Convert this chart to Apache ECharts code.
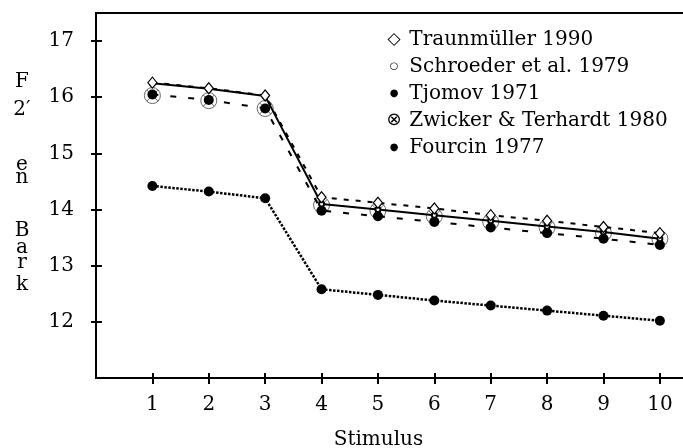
<!DOCTYPE html>
<html>
<head>
<meta charset="utf-8">
<script src="https://cdn.jsdelivr.net/npm/echarts@6/dist/echarts.min.js"></script>
<style>
html,body{margin:0;padding:0;background:#fff;}
#chart{width:683px;height:448px;}
</style>
</head>
<body>
<div id="chart"></div>
<script>
var stimuli = [1, 2, 3, 4, 5, 6, 7, 8, 9, 10];
var xTicks = [1, 2, 3, 4, 5, 6, 7, 8, 9, 10];
var yTicks = [12, 13, 14, 15, 16, 17];
var traunmuller = [16.26, 16.16, 16.03, 14.22, 14.12, 14.02, 13.90, 13.80, 13.69, 13.58];
var schroeder   = [16.25, 16.15, 16.02, 14.10, 14.00, 13.90, 13.80, 13.70, 13.60, 13.48];
var tjomov      = [16.05, 15.95, 15.80, 13.98, 13.88, 13.78, 13.68, 13.58, 13.48, 13.37];
var zwicker     = [16.03, 15.94, 15.80, 14.08, 13.98, 13.88, 13.78, 13.68, 13.58, 13.48];
var fourcin     = [14.42, 14.32, 14.20, 12.58, 12.48, 12.38, 12.29, 12.20, 12.11, 12.02];
var names = ['Traunmüller 1990', 'Schroeder et al. 1979', 'Tjomov 1971', 'Zwicker & Terhardt 1980', 'Fourcin 1977'];
var glyphs = ['{d|◇}', '{c|○}', '{b|●}', '{x|⊗}', '{b|●}'];
var yLabelParts = [['F', 82], ['2′', 110], ['e', 165], ['n', 178], ['B', 231], ['a', 248], ['r', 263], ['k', 285]];

function pairs(vals) { return stimuli.map(function (s, i) { return [s, vals[i]]; }); }

var FONT = 'DejaVu Serif';
var chart = echarts.init(document.getElementById('chart'), null, {renderer: 'canvas'});
var otimes = 'path://M0,8 A8,8 0 1,1 16,8 A8,8 0 1,1 0,8 Z M2.34,2.34 L13.66,13.66 M13.66,2.34 L2.34,13.66';

function g(size) { return {width: 18, align: 'center', fontFamily: 'DejaVu Sans', fontSize: size, color: '#000', lineHeight: 27}; }

var axisLineStyle = {color: '#000', width: 2};
chart.setOption({
  animation: false,
  backgroundColor: '#fff',
  grid: {left: 96, right: 0, top: 13, bottom: 70, containLabel: false, outerBoundsMode: 'none'},
  legend: {
    orient: 'vertical', left: 375, top: 21, itemGap: 0, itemWidth: 0, itemHeight: 0, icon: 'none',
    selectedMode: false,
    data: names,
    formatter: function (n) { return glyphs[names.indexOf(n)] + ' ' + n; },
    textStyle: {
      fontFamily: FONT, fontSize: 20, color: '#000', lineHeight: 27,
      rich: {d: g(17), c: g(10), b: g(10), x: g(18)}
    }
  },
  graphic: yLabelParts.map(function (p) {
    return {type: 'text', x: 22, y: p[1], style: {text: p[0], font: '20px "' + FONT + '"', fill: '#000', align: 'center', verticalAlign: 'middle'}};
  }),
  xAxis: [
    {type: 'value', min: 0, max: 10.41, position: 'bottom',
     axisLine: {lineStyle: axisLineStyle},
     axisTick: {customValues: xTicks, length: 6, lineStyle: {color: '#000', width: 2}},
     axisLabel: {customValues: xTicks, margin: 17, fontFamily: FONT, fontSize: 20, color: '#000'},
     splitLine: {show: false},
     name: 'Stimulus', nameLocation: 'middle', nameGap: 52,
     nameTextStyle: {fontFamily: FONT, fontSize: 20, color: '#000', padding: [0, 22, 0, 0]}},
    {type: 'value', min: 0, max: 10.41, position: 'bottom',
     axisLine: {show: false},
     axisTick: {customValues: xTicks, inside: true, length: 5, lineStyle: {color: '#000', width: 2}},
     axisLabel: {show: false}, splitLine: {show: false}},
    {type: 'value', min: 0, max: 10.41, position: 'top',
     axisLine: {lineStyle: axisLineStyle}, axisTick: {show: false}, axisLabel: {show: false}, splitLine: {show: false}}
  ],
  yAxis: [
    {type: 'value', min: 11, max: 17.5, position: 'left',
     axisLine: {show: true, lineStyle: axisLineStyle},
     axisTick: {show: true, customValues: yTicks, length: 5, lineStyle: {color: '#000', width: 2}},
     axisLabel: {customValues: yTicks, margin: 22, fontFamily: FONT, fontSize: 20, color: '#000'},
     splitLine: {show: false}},
    {type: 'value', min: 11, max: 17.5, position: 'left',
     axisLine: {show: false},
     axisTick: {show: true, customValues: yTicks, inside: true, length: 6, lineStyle: {color: '#000', width: 2}},
     axisLabel: {show: false}, splitLine: {show: false}}
  ],
  series: [
    {name: names[3], type: 'line', data: pairs(zwicker), symbol: otimes, symbolSize: 16, symbolKeepAspect: true,
     itemStyle: {color: 'rgba(0,0,0,0)', borderColor: '#666', borderWidth: 1},
     lineStyle: {width: 0, opacity: 0}, z: 2},
    {name: names[2], type: 'line', data: pairs(tjomov), symbol: 'circle', symbolSize: 10,
     itemStyle: {color: '#000'}, lineStyle: {color: '#000', width: 2, type: [6, 12]}, z: 3},
    {name: names[4], type: 'line', data: pairs(fourcin), symbol: 'circle', symbolSize: 10,
     itemStyle: {color: '#000'}, lineStyle: {color: '#000', width: 2.5, type: [2.5, 1.5]}, z: 3},
    {name: names[1], type: 'line', data: pairs(schroeder), symbol: 'emptyCircle', symbolSize: 5,
     itemStyle: {color: '#000', borderColor: '#000', borderWidth: 1}, lineStyle: {color: '#000', width: 2}, z: 4},
    {name: names[0], type: 'line', data: pairs(traunmuller), symbol: 'diamond', symbolSize: [9, 11],
     itemStyle: {color: '#fff', borderColor: '#000', borderWidth: 1.2},
     lineStyle: {color: '#000', width: 2, type: [5, 7]}, z: 5}
  ]
});
</script>
</body>
</html>
